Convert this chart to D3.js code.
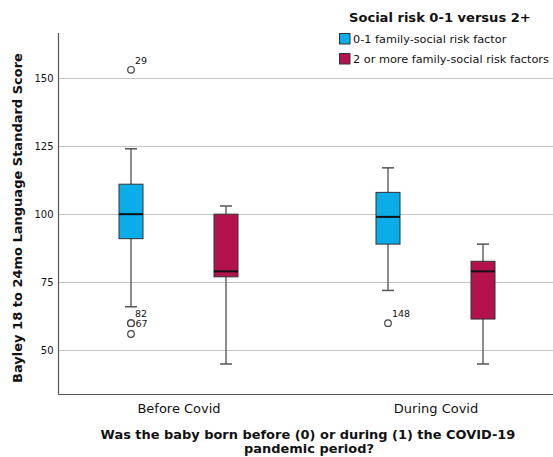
<!DOCTYPE html>
<html><head><meta charset="utf-8">
<script src="https://cdn.jsdelivr.net/npm/d3@7"></script>
<style>body{margin:0;background:#fff;} svg{display:block;} text{font-family:"DejaVu Sans",sans-serif;fill:#111;}</style>
</head><body>
<svg id="c" width="553" height="457"></svg>
<script>
const periods = ["Before Covid", "During Covid"];
const groups = ["0-1 family-social risk factor", "2 or more family-social risk factors"];
const colors = ["#0BADE8", "#B3124C"];
// [whiskerLow, q1, median, q3, whiskerHigh] per period per group
const stats = [
  [[66, 91, 100, 111, 124], [45, 77, 79, 100, 103]],
  [[72, 89, 99, 108, 117], [45, 61.5, 79, 82.7, 89]]
];
// outliers: period, group, value, label
const outliers = [
  {p: 0, g: 0, v: 153, label: "29", pos: "above"},
  {p: 0, g: 0, v: 60, label: "67", pos: "right"},
  {p: 0, g: 0, v: 60, label: "82", pos: "above"},
  {p: 0, g: 0, v: 56, label: "", pos: "none"},
  {p: 1, g: 0, v: 60, label: "148", pos: "above"}
];
const yTicks = [50, 75, 100, 125, 150];
const yTitle = "Bayley 18 to 24mo Language Standard Score";
const xTitle = ["Was the baby born before (0) or during (1) the COVID-19", "pandemic period?"];
const legendTitle = "Social risk 0-1 versus 2+";

const svg = d3.select("#c");
const L = 58.5, T = 33, R = 553, B = 394.5;
const y = d3.scaleLinear().domain([33.8, 166.5]).range([B, T]);
const x = d3.scalePoint().domain(periods).range([178.5, 435.5]);
const xg = d3.scalePoint().domain(groups).range([-47.5, 47.5]);
const bw = 24;

// gridlines
svg.append("g").selectAll("line").data(yTicks).join("line")
  .attr("x1", L).attr("x2", R).attr("y1", d => Math.round(y(d)) + 0.5).attr("y2", d => Math.round(y(d)) + 0.5)
  .attr("stroke", "#c4c4c4").attr("stroke-width", 1);

// y axis
const ya = svg.append("g").attr("transform", `translate(${L},0)`)
  .call(d3.axisLeft(y).tickValues(yTicks).tickSize(0).tickPadding(5));
ya.select(".domain").remove();
ya.selectAll("text").style("font-size", "10px").attr("fill", "#222").style("font-family", "DejaVu Sans");

// x axis
const xa = svg.append("g").attr("transform", `translate(0,${B})`)
  .call(d3.axisBottom(x).tickSize(0).tickPadding(9));
xa.select(".domain").remove();
xa.selectAll("text").style("font-size", "13px").attr("fill", "#111").style("font-family", "DejaVu Sans");

// axis lines
svg.append("line").attr("x1", L).attr("x2", L).attr("y1", T).attr("y2", B).attr("stroke", "#555").attr("stroke-width", 1.2);
svg.append("line").attr("x1", L).attr("x2", R).attr("y1", B).attr("y2", B).attr("stroke", "#555").attr("stroke-width", 1.2);

// boxes
const flat = [];
stats.forEach((row, p) => row.forEach((s, g) => flat.push({p, g, s})));
const bx = svg.append("g").selectAll("g").data(flat).join("g")
  .attr("transform", d => `translate(${x(periods[d.p]) + xg(groups[d.g])},0)`);
bx.append("line").attr("x1", 0).attr("x2", 0).attr("y1", d => y(d.s[0])).attr("y2", d => y(d.s[4]))
  .attr("stroke", "#666").attr("stroke-width", 1.5);
bx.append("line").attr("x1", -6).attr("x2", 6).attr("y1", d => y(d.s[0])).attr("y2", d => y(d.s[0]))
  .attr("stroke", "#555").attr("stroke-width", 1.5);
bx.append("line").attr("x1", -6).attr("x2", 6).attr("y1", d => y(d.s[4])).attr("y2", d => y(d.s[4]))
  .attr("stroke", "#555").attr("stroke-width", 1.5);
bx.append("rect").attr("x", -bw / 2).attr("width", bw)
  .attr("y", d => y(d.s[3])).attr("height", d => y(d.s[1]) - y(d.s[3]))
  .attr("fill", d => colors[d.g]).attr("stroke", "#333").attr("stroke-width", 1);
bx.append("line").attr("x1", -bw / 2).attr("x2", bw / 2).attr("y1", d => y(d.s[2])).attr("y2", d => y(d.s[2]))
  .attr("stroke", "#111").attr("stroke-width", 2);

// outliers
const og = svg.append("g");
outliers.forEach(o => {
  const cx = x(periods[o.p]) + xg(groups[o.g]), cy = y(o.v);
  og.append("circle").attr("cx", cx).attr("cy", cy).attr("r", 3.3)
    .attr("fill", "#fff").attr("stroke", "#444").attr("stroke-width", 1.2);
  if (o.pos === "above") {
    og.append("text").attr("x", cx + 4).attr("y", cy - 6).style("font-size", "9.5px").attr("fill", "#222").text(o.label);
  } else if (o.pos === "right") {
    og.append("text").attr("x", cx + 4.5).attr("y", cy + 3.5).style("font-size", "9.5px").attr("fill", "#222").text(o.label);
  }
});

function fit(sel, w) {
  const cur = sel.node().getComputedTextLength();
  const fs = parseFloat(sel.style("font-size"));
  sel.style("font-size", (fs * w / cur) + "px");
}

// y title
const yt = svg.append("text").attr("transform", "translate(22,218) rotate(-90)")
  .attr("text-anchor", "middle").style("font-size", "13px").style("font-weight", "bold").text(yTitle);
fit(yt, 330);

// x title
const xt1 = svg.append("text").attr("x", 308).attr("y", 439).attr("text-anchor", "middle")
  .style("font-size", "13px").style("font-weight", "bold").text(xTitle[0]);
fit(xt1, 415);
const fsx = xt1.style("font-size");
svg.append("text").attr("x", 309).attr("y", 453).attr("text-anchor", "middle")
  .style("font-size", fsx).style("font-weight", "bold").text(xTitle[1]);

// legend
const lt = svg.append("text").attr("x", 349).attr("y", 22).style("font-size", "14px").style("font-weight", "bold").text(legendTitle);
fit(lt, 182);
const lg = svg.append("g").selectAll("g").data(groups).join("g")
  .attr("transform", (d, i) => `translate(339,${39 + i * 20})`);
lg.append("rect").attr("x", 0.5).attr("y", -5.5).attr("width", 10.5).attr("height", 10.5)
  .attr("fill", (d, i) => colors[i]).attr("stroke", "#333").attr("stroke-width", 1);
const lts = lg.append("text").attr("x", 14).attr("y", 4).style("font-size", "11px").text(d => d);
fit(d3.select(lts.nodes()[1]), 196);
d3.select(lts.nodes()[0]).style("font-size", d3.select(lts.nodes()[1]).style("font-size"));
</script>
</body></html>
